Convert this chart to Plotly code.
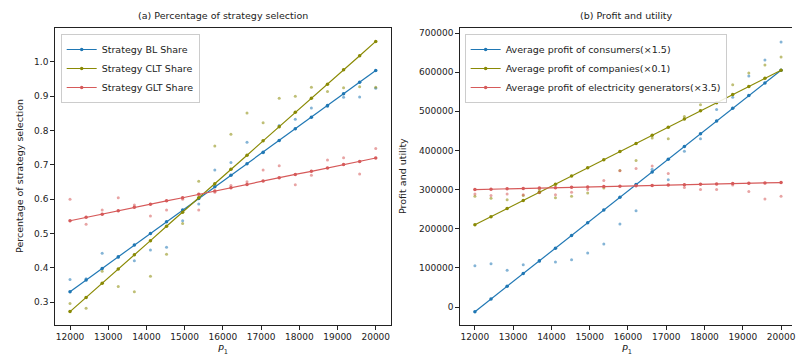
import plotly.graph_objects as go

# ---------------- data ----------------
P1 = [12000, 12421, 12842, 13263, 13684, 14105, 14526, 14947, 15368, 15789,
      16211, 16632, 17053, 17474, 17895, 18316, 18737, 19158, 19579, 20000]

# (a) strategy shares - fitted lines
bl_share = [0.330, 0.364, 0.398, 0.432, 0.466, 0.500, 0.534, 0.568, 0.602, 0.636,
            0.670, 0.703, 0.737, 0.771, 0.805, 0.839, 0.873, 0.907, 0.941, 0.975]
clt_share = [0.272, 0.313, 0.355, 0.396, 0.438, 0.479, 0.521, 0.562, 0.604, 0.645,
             0.687, 0.728, 0.770, 0.811, 0.853, 0.894, 0.935, 0.977, 1.018, 1.060]
glt_share = [0.537, 0.547, 0.556, 0.566, 0.576, 0.585, 0.595, 0.604, 0.614, 0.624,
             0.633, 0.643, 0.653, 0.662, 0.672, 0.681, 0.691, 0.701, 0.710, 0.720]
# (a) raw observations
bl_obs = [0.366, 0.368, 0.442, 0.430, 0.420, 0.452, 0.460, 0.537, 0.586, 0.685,
          0.707, 0.766, 0.735, 0.815, 0.833, 0.866, 0.870, 0.897, 0.898, 0.923]
clt_obs = [0.296, 0.282, 0.390, 0.345, 0.330, 0.375, 0.439, 0.529, 0.652, 0.755,
           0.789, 0.851, 0.823, 0.894, 0.900, 0.926, 0.914, 0.925, 0.928, 0.926]
glt_obs = [0.600, 0.527, 0.568, 0.604, 0.583, 0.551, 0.568, 0.600, 0.568, 0.620,
           0.640, 0.651, 0.685, 0.697, 0.642, 0.670, 0.714, 0.721, 0.673, 0.748]

# (b) profit and utility - fitted lines
consumers = [-12000, 20500, 52900, 85400, 117900, 150400, 182800, 215300, 247800, 280300,
             312700, 345200, 377700, 410200, 442600, 475100, 507600, 540100, 572500, 605000]
companies = [210000, 230800, 251600, 272400, 293200, 313900, 334700, 355500, 376300, 397100,
             417900, 438700, 459500, 480300, 501100, 521800, 542600, 563400, 584200, 605000]
generators = [300000, 301000, 301900, 302800, 303800, 304700, 305700, 306600, 307600, 308500,
              309500, 310400, 311400, 312300, 313300, 314200, 315200, 316100, 317100, 318000]
# (b) raw observations
consumers_obs = [105600, 110700, 93700, 108200, 116000, 115000, 121000, 138000, 161000, 212000,
                 246000, 352000, 325000, 398000, 430000, 504600, 536000, 590000, 631000, 677000]
companies_obs = [283000, 278000, 274000, 285000, 300000, 279000, 283000, 291000, 304000, 348600,
                 374000, 432000, 430000, 487000, 517000, 554000, 568000, 598000, 618000, 639000]
generators_obs = [289000, 285000, 289000, 287000, 292000, 287000, 293000, 300000, 323000, 348000,
                  354000, 360000, 341000, 305000, 300000, 300000, 312000, 295000, 276000, 283000]

x_ticks = [12000, 13000, 14000, 15000, 16000, 17000, 18000, 19000, 20000]
share_ticks = [0.3, 0.4, 0.5, 0.6, 0.7, 0.8, 0.9, 1.0]
profit_ticks = [0, 100000, 200000, 300000, 400000, 500000, 600000, 700000]

# ---------------- style ----------------
BLUE = "#1f77b4"
OLIVE = "#8a8a05"
RED = "#d65a5a"
FONT = "DejaVu Sans"
W, H = 796, 358

def px_x(p):
    return p / W

def px_y(p):
    return 1 - p / H

fig = go.Figure()

def add_pair(x, line_vals, obs_vals, color, name, xa, ya, legend):
    fig.add_trace(go.Scatter(
        x=x, y=obs_vals, mode="markers", xaxis=xa, yaxis=ya,
        marker=dict(size=3, color=color, opacity=0.55),
        showlegend=False, hoverinfo="skip"))
    fig.add_trace(go.Scatter(
        x=x, y=line_vals, mode="lines+markers", name=name, xaxis=xa, yaxis=ya,
        line=dict(color=color, width=1.2),
        marker=dict(size=3.5, color=color),
        legend=legend))

add_pair(P1, bl_share, bl_obs, BLUE, "Strategy BL Share", "x", "y", "legend")
add_pair(P1, clt_share, clt_obs, OLIVE, "Strategy CLT Share", "x", "y", "legend")
add_pair(P1, glt_share, glt_obs, RED, "Strategy GLT Share", "x", "y", "legend")

add_pair(P1, consumers, consumers_obs, BLUE, "Average profit of consumers(×1.5)", "x2", "y2", "legend2")
add_pair(P1, companies, companies_obs, OLIVE, "Average profit of companies(×0.1)", "x2", "y2", "legend2")
add_pair(P1, generators, generators_obs, RED, "Average profit of electricity generators(×3.5)", "x2", "y2", "legend2")

axis_common = dict(
    showgrid=False, zeroline=False, showline=True, linecolor="#222", linewidth=1,
    ticks="outside", ticklen=3.5, tickwidth=1, tickcolor="#222",
    tickfont=dict(family=FONT, size=9, color="#222"),
    ticklabeloverflow="allow",
)

y_dom = [px_y(325), px_y(28)]

fig.update_layout(
    width=W, height=H,
    margin=dict(l=0, r=0, t=0, b=0),
    paper_bgcolor="white", plot_bgcolor="white",
    font=dict(family=FONT, size=9, color="#222"),
    xaxis=dict(domain=[px_x(55), px_x(393)], range=[11600, 20400],
               tickvals=x_ticks, tickformat="d", mirror=True, anchor="y", **axis_common),
    yaxis=dict(domain=y_dom, range=[0.233, 1.099], tickvals=share_ticks,
               tickformat=".1f", mirror=True, anchor="x", **axis_common),
    xaxis2=dict(domain=[px_x(462), 1.0], range=[11602, 20286],
                tickvals=x_ticks, tickformat="d", mirror=True, anchor="y2", **axis_common),
    yaxis2=dict(domain=y_dom, range=[-46000, 712800], tickvals=profit_ticks,
                tickformat="d", mirror=False, anchor="x2", **axis_common),
    legend=dict(x=px_x(61), y=px_y(34), xanchor="left", yanchor="top",
                bgcolor="rgba(255,255,255,0.85)", bordercolor="#cccccc", borderwidth=1,
                font=dict(family=FONT, size=9.5, color="#222"),
                itemwidth=30, tracegroupgap=0),
    legend2=dict(x=px_x(467), y=px_y(34), xanchor="left", yanchor="top",
                 bgcolor="rgba(255,255,255,0.85)", bordercolor="#cccccc", borderwidth=1,
                 font=dict(family=FONT, size=9.5, color="#222"),
                 itemwidth=30, tracegroupgap=0),
    annotations=[
        dict(text="(a) Percentage of strategy selection", x=px_x(224), y=px_y(15),
             xref="paper", yref="paper", showarrow=False, xanchor="center", yanchor="middle",
             font=dict(family=FONT, size=9.5, color="#222")),
        dict(text="(b) Profit and utility", x=px_x(630), y=px_y(15),
             xref="paper", yref="paper", showarrow=False, xanchor="center", yanchor="middle",
             font=dict(family=FONT, size=9.5, color="#222")),
        dict(text="Percentage of strategy selection", x=px_x(20), y=px_y(176),
             xref="paper", yref="paper", showarrow=False, textangle=-90,
             xanchor="center", yanchor="middle",
             font=dict(family=FONT, size=9.5, color="#222")),
        dict(text="Profit and utility", x=px_x(405), y=px_y(176),
             xref="paper", yref="paper", showarrow=False, textangle=-90,
             xanchor="center", yanchor="middle",
             font=dict(family=FONT, size=9.5, color="#222")),
        dict(text="<i>P</i><sub>1</sub>", x=px_x(224), y=0,
             xref="paper", yref="paper", showarrow=False, xanchor="center", yanchor="bottom",
             font=dict(family=FONT, size=9.5, color="#222")),
        dict(text="<i>P</i><sub>1</sub>", x=px_x(630), y=0,
             xref="paper", yref="paper", showarrow=False, xanchor="center", yanchor="bottom",
             font=dict(family=FONT, size=9.5, color="#222")),
    ],
)

fig.write_html("out.html")
